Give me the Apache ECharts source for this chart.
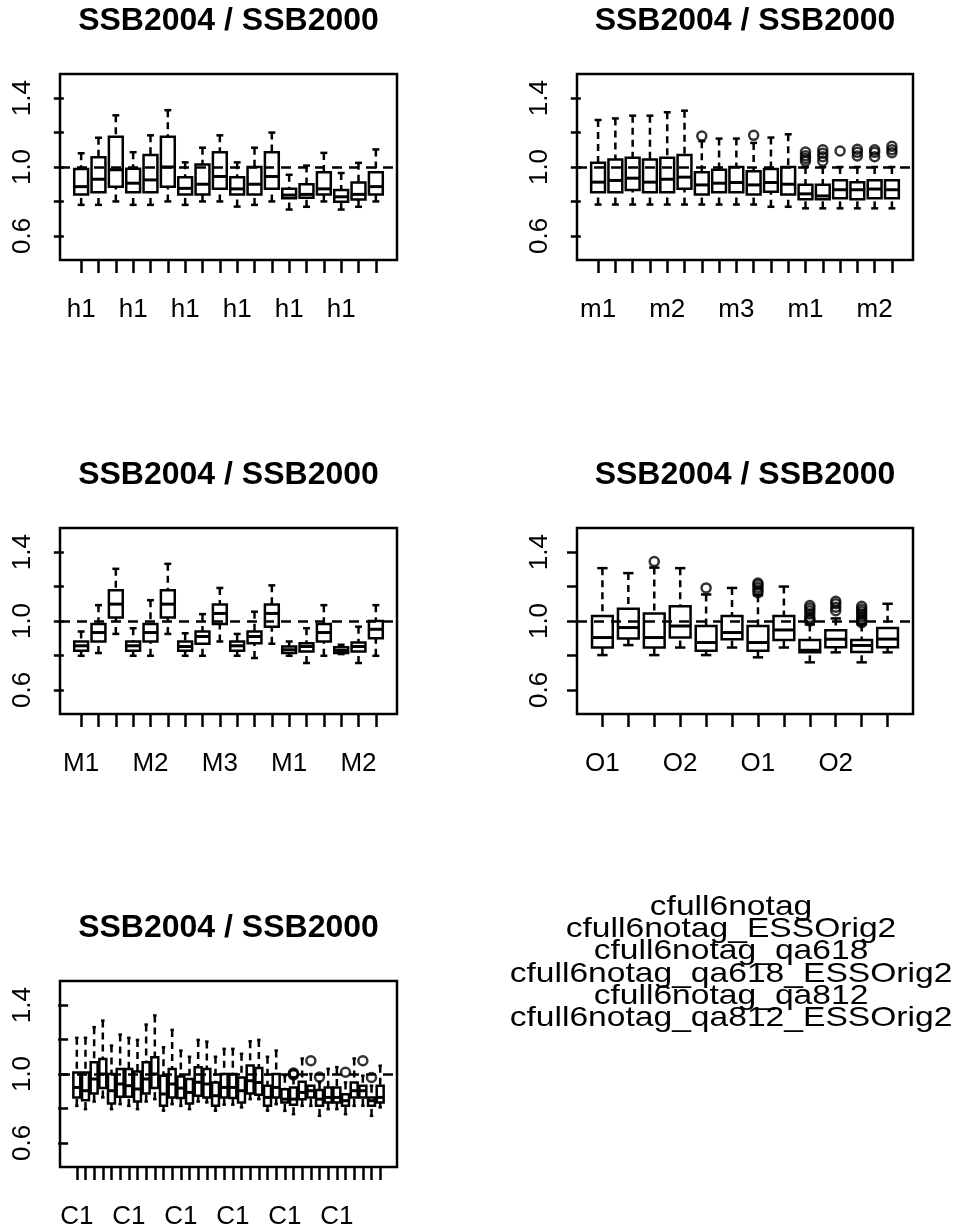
<!DOCTYPE html>
<html><head><meta charset="utf-8">
<script src="https://cdn.jsdelivr.net/npm/echarts@6/dist/echarts.min.js"></script>
<style>html,body{margin:0;padding:0;background:#fff}#c{width:956px;height:1230px}</style>
</head><body><div id="c"></div><script>
// ---------- data ----------
const titleText = 'SSB2004 / SSB2000';
const yTicks = [0.6, 0.8, 1.0, 1.2, 1.4];
const yTickLabels = [0.6, 1.0, 1.4];
const runNames = ['cfull6notag','cfull6notag_ESSOrig2','cfull6notag_qa618','cfull6notag_qa618_ESSOrig2','cfull6notag_qa812','cfull6notag_qa812_ESSOrig2'];

const catsH = ['h1','h2','h3','h1','h2','h3','h1','h2','h3','h1','h2','h3','h1','h2','h3','h1','h2','h3'];
// [lower whisker, Q1, median, Q3, upper whisker]
const boxesH = [
 [0.78,0.84,0.886,0.988,1.08],[0.78,0.853,0.929,1.057,1.17],[0.80,0.886,0.984,1.175,1.30],
 [0.78,0.853,0.906,0.99,1.086],[0.78,0.853,0.925,1.069,1.184],[0.80,0.886,1.0,1.175,1.33],
 [0.78,0.841,0.876,0.941,1.027],[0.80,0.841,0.90,1.014,1.112],[0.80,0.873,0.945,1.086,1.184],
 [0.77,0.841,0.873,0.941,1.027],[0.78,0.841,0.90,1.0,1.112],[0.80,0.873,0.945,1.086,1.20],
 [0.753,0.818,0.837,0.873,0.955],[0.769,0.822,0.841,0.90,1.008],[0.80,0.841,0.873,0.969,1.082],
 [0.753,0.798,0.827,0.867,0.965],[0.769,0.812,0.841,0.91,1.024],[0.80,0.841,0.886,0.969,1.102]
];
const outH = [];

const catsm = ['m1','m2','m3','m1','m2','m3','m1','m2','m3','m1','m2','m3','m1','m2','m3','m1','m2','m3'];
const boxesm = [
 [0.782,0.853,0.912,1.024,1.273],[0.782,0.853,0.922,1.043,1.282],[0.782,0.867,0.935,1.053,1.298],
 [0.782,0.853,0.912,1.043,1.298],[0.782,0.853,0.929,1.053,1.318],[0.782,0.873,0.941,1.069,1.327],
 [0.782,0.841,0.896,0.969,1.15],[0.782,0.853,0.906,0.984,1.165],[0.782,0.853,0.91,1.0,1.165],
 [0.782,0.841,0.896,0.975,1.14],[0.769,0.857,0.91,0.988,1.171],[0.769,0.841,0.90,1.0,1.19],
 [0.76,0.813,0.844,0.897,1.0],[0.76,0.813,0.832,0.897,1.0],[0.76,0.819,0.868,0.923,1.0],
 [0.76,0.813,0.868,0.911,1.0],[0.76,0.819,0.872,0.923,1.0],[0.76,0.819,0.868,0.923,1.0]
];
const outm = [[7,1.18],[10,1.184],
 [13,1.034],[13,1.05],[13,1.065],[13,1.087],
 [14,1.034],[14,1.06],[14,1.08],[14,1.1],
 [15,1.093],
 [16,1.064],[16,1.085],[16,1.103],
 [17,1.06],[17,1.085],[17,1.1],
 [18,1.083],[18,1.1],[18,1.12]];

const catsM = ['M1','M2','M3','M1','M2','M3','M1','M2','M3','M1','M2','M3','M1','M2','M3','M1','M2','M3'];
const boxesM = [
 [0.798,0.827,0.856,0.881,0.939],[0.814,0.881,0.933,0.983,1.092],[0.925,1.021,1.098,1.178,1.303],
 [0.798,0.827,0.856,0.881,0.958],[0.798,0.881,0.933,0.983,1.121],[0.925,1.021,1.098,1.178,1.332],
 [0.798,0.827,0.852,0.881,0.929],[0.798,0.868,0.91,0.939,1.04],[0.881,0.983,1.044,1.096,1.192],
 [0.798,0.827,0.856,0.881,0.925],[0.785,0.871,0.91,0.939,1.054],[0.868,0.967,1.044,1.096,1.207],
 [0.798,0.814,0.833,0.852,0.881],[0.756,0.823,0.852,0.871,0.958],[0.798,0.881,0.933,0.983,1.092],
 [0.808,0.814,0.829,0.848,0.862],[0.756,0.823,0.852,0.875,0.967],[0.798,0.9,0.952,1.0,1.092]
];
const outM = [];

const catsO = ['O1','O2','O1','O2','O1','O2','O1','O2','O1','O2','O1','O2'];
const boxesO = [
 [0.802,0.846,0.904,1.029,1.307],[0.86,0.898,0.962,1.071,1.278],[0.802,0.846,0.904,1.044,1.31],
 [0.846,0.904,0.971,1.086,1.307],[0.802,0.827,0.875,0.971,1.154],[0.846,0.894,0.933,1.029,1.192],
 [0.789,0.827,0.875,0.971,1.15],[0.846,0.889,0.948,1.029,1.2],[0.76,0.818,0.83,0.889,0.98],
 [0.818,0.847,0.894,0.946,1.015],[0.76,0.82,0.858,0.889,0.98],[0.818,0.847,0.895,0.96,1.1]
];
const outO = [[3,1.345],[5,1.192],
 [7,1.165],[7,1.18],[7,1.195],[7,1.21],[7,1.22],
 [9,1.0],[9,1.01],[9,1.02],[9,1.04],[9,1.06],[9,1.075],[9,1.09],
 [10,1.06],[10,1.08],[10,1.1],[10,1.115],
 [11,0.99],[11,1.0],[11,1.01],[11,1.025],[11,1.04],[11,1.055],[11,1.07],[11,1.085]];

const catsC = ['C1','C2','C3','C4','C5','C6','C1','C2','C3','C4','C5','C6','C1','C2','C3','C4','C5','C6',
               'C1','C2','C3','C4','C5','C6','C1','C2','C3','C4','C5','C6','C1','C2','C3','C4','C5','C6'];
const boxesC = [
 [0.815,0.864,0.922,1.009,1.21],[0.796,0.848,0.903,1.009,1.21],[0.84,0.887,0.971,1.068,1.272],
 [0.864,0.918,1.0,1.087,1.31],[0.796,0.829,0.903,1.0,1.165],[0.825,0.868,0.942,1.029,1.229],
 [0.815,0.868,0.932,1.029,1.21],[0.796,0.84,0.913,1.015,1.198],[0.84,0.887,0.971,1.068,1.287],
 [0.854,0.918,1.0,1.097,1.34],[0.787,0.815,0.884,0.99,1.155],[0.825,0.864,0.942,1.029,1.256],
 [0.815,0.86,0.918,0.985,1.136],[0.796,0.829,0.893,0.971,1.1],[0.84,0.874,0.952,1.039,1.198],
 [0.835,0.864,0.942,1.029,1.188],[0.787,0.815,0.874,0.951,1.1],[0.822,0.864,0.922,1.0,1.146],
 [0.822,0.86,0.922,1.0,1.146],[0.806,0.835,0.903,0.98,1.117],[0.854,0.887,0.961,1.049,1.19],
 [0.854,0.879,0.951,1.035,1.198],[0.787,0.815,0.864,0.932,1.1],[0.825,0.864,0.922,1.0,1.136],
 [0.786,0.835,0.854,0.912,0.99],[0.767,0.821,0.854,0.922,0.98],[0.815,0.854,0.893,0.955,1.09],
 [0.815,0.864,0.903,0.932,1.0],[0.757,0.815,0.854,0.907,0.951],[0.796,0.835,0.864,0.922,1.03],
 [0.796,0.835,0.864,0.922,1.04],[0.767,0.815,0.845,0.883,0.951],[0.815,0.864,0.903,0.951,1.09],
 [0.815,0.864,0.903,0.932,0.99],[0.757,0.815,0.845,0.864,0.932],[0.806,0.835,0.864,0.932,1.048]
];
const outC = [[26,0.995],[26,1.0],[26,1.006],[28,1.077],[29,0.982],[32,1.01],[34,1.077],[35,0.98]];

// ---------- layout ----------
const FONT = 'Liberation Sans, Arial, Helvetica, sans-serif';
const LW = 2.5;
const panels = [
 {cats: catsH, boxes: boxesH, out: outH, step: 3, left: 60,  top: 74,  width: 337},
 {cats: catsm, boxes: boxesm, out: outm, step: 4, left: 577, top: 74,  width: 336},
 {cats: catsM, boxes: boxesM, out: outM, step: 4, left: 60,  top: 528, width: 337},
 {cats: catsO, boxes: boxesO, out: outO, step: 3, left: 577, top: 528, width: 336},
 {cats: catsC, boxes: boxesC, out: outC, step: 6, left: 60,  top: 981, width: 337}
];
const PH = 186;

function renderBox(params, api) {
  const x = api.value(0);
  const lo = api.coord([x, api.value(1)]);
  const q1 = api.coord([x, api.value(2)]);
  const md = api.coord([x, api.value(3)]);
  const q3 = api.coord([x, api.value(4)]);
  const hi = api.coord([x, api.value(5)]);
  const unit = api.size([1, 0])[0];
  const half = unit * 0.4, cap = unit * 0.2, cx = md[0];
  const solid = {stroke: '#000', lineWidth: LW, fill: null};
  const dashed = {stroke: '#000', lineWidth: LW, lineDash: [7, 5], fill: null};
  return {type: 'group', children: [
    {type: 'line', shape: {x1: cx, y1: hi[1], x2: cx, y2: q3[1]}, style: dashed},
    {type: 'line', shape: {x1: cx, y1: lo[1], x2: cx, y2: q1[1]}, style: dashed},
    {type: 'line', shape: {x1: cx - cap, y1: hi[1], x2: cx + cap, y2: hi[1]}, style: solid},
    {type: 'line', shape: {x1: cx - cap, y1: lo[1], x2: cx + cap, y2: lo[1]}, style: solid},
    {type: 'rect', shape: {x: cx - half, y: q3[1], width: 2 * half, height: q1[1] - q3[1]}, style: {fill: 'rgba(0,0,0,0)', stroke: '#000', lineWidth: LW}},
    {type: 'line', shape: {x1: cx - half, y1: md[1], x2: cx + half, y2: md[1]}, style: {stroke: '#000', lineWidth: 3}}
  ]};
}

const grids = [], xAxes = [], yAxes = [], series = [], graphics = [];
panels.forEach((p, i) => {
  const n = p.cats.length;
  const idx = p.cats.map((c, j) => j + 1);
  const lab = idx.filter(v => (v - 1) % p.step === 0);
  grids.push({left: p.left, top: p.top, width: p.width, height: PH, show: true, borderColor: '#000', borderWidth: LW, backgroundColor: 'transparent'});
  xAxes.push({gridIndex: i, type: 'value', min: 0.5 - 0.04 * n, max: n + 0.5 + 0.04 * n,
    axisLine: {show: false}, splitLine: {show: false},
    axisTick: {show: true, inside: false, length: 13, lineStyle: {color: '#000', width: LW}, customValues: idx},
    axisLabel: {customValues: lab, formatter: v => p.cats[Math.round(v) - 1], fontSize: 26, color: '#000', margin: 37, fontFamily: FONT}});
  yAxes.push({gridIndex: i, type: 'value', min: 0.46, max: 1.54,
    axisLine: {show: false}, splitLine: {show: false},
    axisTick: {show: true, inside: false, length: 10, lineStyle: {color: '#000', width: LW}, customValues: yTicks},
    axisLabel: {customValues: yTickLabels, rotate: 90, formatter: v => v.toFixed(1), fontSize: 26, color: '#000', margin: 24, fontFamily: FONT}});
  series.push({type: 'custom', xAxisIndex: i, yAxisIndex: i, renderItem: renderBox, silent: true,
    data: p.boxes.map((b, j) => [j + 1, b[0], b[1], b[2], b[3], b[4]]),
    encode: {x: 0, y: [1, 2, 3, 4, 5]},
    markLine: {silent: true, symbol: 'none', animation: false, label: {show: false},
      lineStyle: {color: '#000', type: [10, 7], width: LW}, data: [{yAxis: 1}]}});
  series.push({type: 'scatter', xAxisIndex: i, yAxisIndex: i, data: p.out, symbol: 'circle', symbolSize: 9, silent: true,
    itemStyle: {color: 'rgba(0,0,0,0)', borderColor: '#000', borderWidth: LW}, z: 3});
  graphics.push({type: 'text', x: p.left + p.width / 2, y: p.top - 53,
    style: {text: titleText, textAlign: 'center', textVerticalAlign: 'middle', font: 'bold 32px ' + FONT, fill: '#000'}});
});
runNames.forEach((t, k) => {
  graphics.push({type: 'text', x: 731, y: 907 + 22.3 * k, scaleX: 1.2,
    style: {text: t, textAlign: 'center', textVerticalAlign: 'middle', font: '28px ' + FONT, fill: '#000'}});
});

const chart = echarts.init(document.getElementById('c'), null, {renderer: 'canvas'});
chart.setOption({animation: false, backgroundColor: '#fff', grid: grids, xAxis: xAxes, yAxis: yAxes, series: series, graphic: graphics});
</script></body></html>
